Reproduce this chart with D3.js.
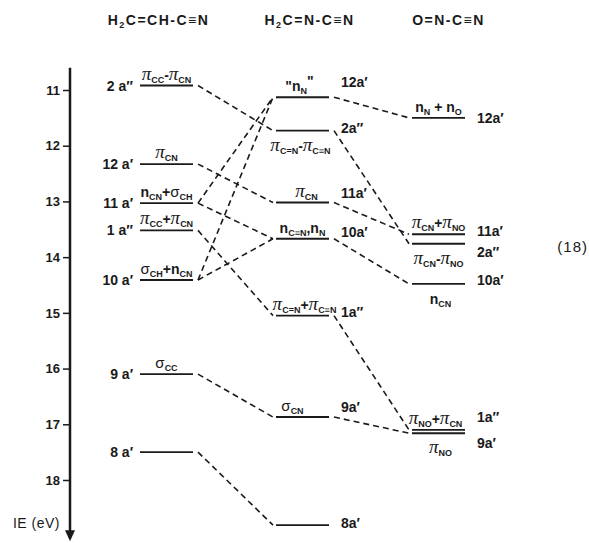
<!DOCTYPE html>
<html>
<head>
<meta charset="utf-8">
<script src="https://cdn.jsdelivr.net/npm/d3@7"></script>
<style>
  body { margin: 0; background: #fff; }
</style>
</head>
<body>
<div id="chart"></div>
<script>
// molecules (column titles)
var molecules = ["H_{2}C=CH-C≡N", "H_{2}C=N-C≡N", "O=N-C≡N"];

// axis ticks (eV)
var ieTicks = [11, 12, 13, 14, 15, 16, 17, 18];

// H2C=CH-CN
var ie1  = [10.92, 12.33, 13.03, 13.52, 14.41, 16.10, 17.50];
var sym1 = ["2 a″", "12 a′", "11 a′", "1 a″", "10 a′", "9 a′", "8 a′"];
var orb1 = ["π_{CC}-π_{CN}", "π_{CN}", "n_{CN}+σ_{CH}", "π_{CC}+π_{CN}", "σ_{CH}+n_{CN}", "σ_{CC}", ""];

// H2C=N-CN
var ie2  = [11.13, 11.73, 13.02, 13.67, 15.05, 16.87, 18.81];
var sym2 = ["12a′", "2a″", "11a′", "10a′", "1a″", "9a′", "8a′"];
var orb2 = ["\"n_{N}^{\"}", "π_{C=N}-π_{C≡N}", "π_{CN}", "n_{C≡N},n_{N}", "π_{C=N}+π_{C≡N}", "σ_{CN}", ""];

// O=N-CN
var ie3  = [11.50, 13.59, 13.76, 14.48, 17.10, 17.16];
var sym3 = ["12a′", "11a′", "2a″", "10a′", "1a″", "9a′"];
var orb3 = ["n_{N} + n_{O}", "π_{CN}+π_{NO}", "π_{CN}-π_{NO}", "n_{CN}", "π_{NO}+π_{CN}", "π_{NO}"];

// correlations [from, to]
var links12 = [[0, 1], [1, 2], [2, 0], [2, 3], [3, 4], [4, 0], [4, 3], [5, 5], [6, 6]];
var links23 = [[0, 0], [1, 2], [2, 1], [3, 3], [4, 4], [5, 5]];

// ---- layout ----
var W = 589, H = 543;
var ink = "#1a1a1a";
var sans = "'Liberation Sans', Arial, sans-serif";
var levelW = 53;

var cols = [
  {ie: ie1, sym: sym1, orb: orb1, place: ["a","a","a","a","a","a",""],
   nudge: [0,0,0,0,0,0,0], side: "left", orbDx: [0,0,0,0,0,0,0]},
  {ie: ie2, sym: sym2, orb: orb2, place: ["a","b","a","a","a","a",""],
   nudge: [-15,-3,-10,-7,-4,-10,-2], side: "right", orbDx: [-3,-2,4,0,2,-10,0]},
  {ie: ie3, sym: sym3, orb: orb3, place: ["a","a","b","b","a","b"],
   nudge: [0,-3,8,-4,-13,10], side: "right", orbDx: [0,0,0,2,-3,2]}
];
var titleDx = [-8, 7, 10];

var svg = d3.select("#chart")
  .append("svg")
    .attr("width", W)
    .attr("height", H)
    .style("font-family", sans);

var x = d3.scalePoint()
  .domain([0, 1, 2])
  .range([140, 412]);

var y = d3.scaleLinear()
  .domain([11, 18])
  .range([90, 480]);

// rich text: _{sub}, ^{sup}, greek glyphs
function rich(sel, str, o) {
  o = o || {};
  var parts = str.match(/_\{[^}]*\}|\^\{[^}]*\}|π|σ|[^_^πσ]+/g) || [];
  var cur = 0;
  parts.forEach(function(p) {
    var t = sel.append("tspan"), off = 0, txt = p;
    if (p[0] == "_") {
      off = o.subDy || 4; txt = p.slice(2, -1);
      t.attr("font-size", o.subSize || 9);
    } else if (p[0] == "^") {
      off = -5; txt = p.slice(2, -1);
    } else if (p == "π") {
      t.attr("font-family", "'Liberation Serif', serif")
        .attr("font-style", "italic").attr("font-weight", "normal")
        .attr("font-size", 19);
    } else if (p == "σ") {
      t.attr("font-weight", "normal").attr("font-size", 15);
    }
    t.attr("dy", off - cur).text(txt);
    cur = off;
  });
}

// titles
molecules.forEach(function(m, i) {
  var t = svg.append("text")
    .attr("x", x(i) + levelW / 2 + titleDx[i])
    .attr("y", 25)
    .attr("text-anchor", "middle")
    .attr("font-weight", "bold")
    .attr("font-size", 14)
    .attr("letter-spacing", 1.5)
    .attr("fill", ink);
  rich(t, m, {subSize: 9, subDy: 3});
});

// axis
var axis = svg.append("g")
  .attr("transform", "translate(70,0)")
  .call(d3.axisLeft(y).tickValues(ieTicks).tickFormat(d3.format("d"))
    .tickSize(7).tickSizeOuter(0).tickPadding(3));
axis.select(".domain").remove();
axis.selectAll(".tick line").attr("stroke", ink).attr("stroke-width", 1.5);
axis.selectAll(".tick text")
  .attr("fill", ink)
  .attr("font-size", 13)
  .attr("font-weight", "bold")
  .attr("font-family", sans);

var yTop = y(10.6), yTip = y(19.1);
svg.append("line")
  .attr("x1", 70).attr("x2", 70)
  .attr("y1", yTop).attr("y2", yTip - 8)
  .attr("stroke", ink).attr("stroke-width", 2.5);
svg.append("path")
  .attr("d", "M65," + (yTip - 11) + "L75," + (yTip - 11) + "L70," + yTip + "Z")
  .attr("fill", ink);

svg.append("text")
  .attr("x", 60).attr("y", 528)
  .attr("text-anchor", "end")
  .attr("font-size", 14)
  .attr("letter-spacing", 0.5)
  .attr("fill", ink)
  .text("IE (eV)");

// dashed correlation lines
function drawLinks(links, a, b) {
  svg.append("g").selectAll("line")
    .data(links)
    .enter()
    .append("line")
      .attr("x1", x(a) + levelW + 5)
      .attr("y1", function(d) { return y(cols[a].ie[d[0]]); })
      .attr("x2", x(b) - 3)
      .attr("y2", function(d) { return y(cols[b].ie[d[1]]); })
      .attr("stroke", ink)
      .attr("stroke-width", 1.6)
      .attr("stroke-dasharray", "6,4");
}
drawLinks(links12, 0, 1);
drawLinks(links23, 1, 2);

// levels + labels
cols.forEach(function(c, ci) {
  var g = svg.append("g");

  g.selectAll("line")
    .data(c.ie)
    .enter()
    .append("line")
      .attr("x1", x(ci))
      .attr("x2", x(ci) + levelW)
      .attr("y1", function(d) { return y(d); })
      .attr("y2", function(d) { return y(d); })
      .attr("stroke", ink)
      .attr("stroke-width", 1.9);

  c.ie.forEach(function(v, i) {
    // symmetry label
    g.append("text")
      .attr("x", c.side == "left" ? x(ci) - 7 : x(ci) + levelW + 12)
      .attr("y", y(v) + 5 + c.nudge[i])
      .attr("text-anchor", c.side == "left" ? "end" : "start")
      .attr("font-weight", "bold")
      .attr("font-size", 14)
      .attr("fill", ink)
      .text(c.sym[i]);

    // orbital label
    if (c.orb[i]) {
      var t = g.append("text")
        .attr("x", x(ci) + levelW / 2 + c.orbDx[i])
        .attr("y", c.place[i] == "a" ? y(v) - 6 : y(v) + 20)
        .attr("text-anchor", "middle")
        .attr("font-weight", "bold")
        .attr("font-size", 14)
        .attr("fill", ink);
      rich(t, c.orb[i], {subSize: 9, subDy: 3});
    }
  });
});

svg.append("text")
  .attr("x", 588).attr("y", 252)
  .attr("text-anchor", "end")
  .attr("font-size", 15)
  .attr("letter-spacing", 1)
  .attr("fill", ink)
  .text("(18)");
</script>
</body>
</html>
